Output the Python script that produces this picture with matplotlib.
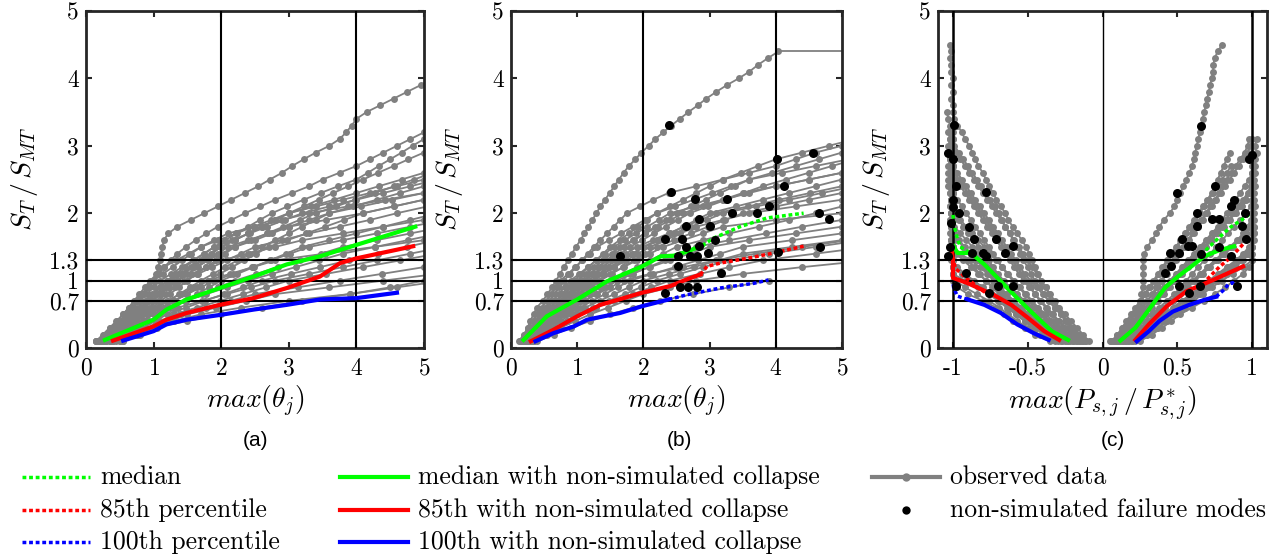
import matplotlib.pyplot as plt
from matplotlib.lines import Line2D

plt.rcParams['font.family'] = 'cmr10'
plt.rcParams['mathtext.fontset'] = 'cm'
plt.rcParams['axes.unicode_minus'] = False
plt.rcParams['axes.formatter.use_mathtext'] = True

# intensity levels S_T/S_MT of the IDA runs
levels = [0.1, 0.2, 0.3, 0.4, 0.5, 0.6, 0.7, 0.8, 0.9, 1.0, 1.1, 1.2, 1.3, 1.4, 1.5,
          1.6, 1.7, 1.8, 1.9, 2.0, 2.1, 2.2, 2.3, 2.4, 2.5, 2.6, 2.7, 2.8, 2.9, 3.0,
          3.1, 3.2, 3.3, 3.4, 3.5, 3.6, 3.7, 3.8, 3.9, 4.0, 4.1, 4.2, 4.3, 4.4, 4.5]

# (a) max(theta_j) of each record at each level
curves_a = [
    [0.15,0.3,0.4,0.5,0.6,0.7,0.78,0.86,0.93,1.0,1.04,1.07,1.09,1.11,1.13,1.15,1.22,1.35,1.55,1.75,1.95,2.15,2.35,2.55,2.72,2.9,3.05,3.22,3.4,3.6,3.75,3.85,3.93,4.0,4.15,4.35,4.55,4.75,4.95,5.15],
    [0.2,0.3,0.4,0.5,0.6,0.68,0.76,0.84,0.92,1.0,1.08,1.16,1.25,1.35,1.48,1.62,1.78,1.95,2.15,2.35,2.58,2.8,3.05,3.3,3.5,3.75,4.0,4.2,4.4,4.6,4.8,5.0,5.2],
    [0.25,0.37,0.48,0.59,0.7,0.8,0.9,1.0,1.1,1.2,1.33,1.46,1.6,1.75,1.9,2.06,2.23,2.4,2.57,2.75,2.98,3.22,3.47,3.73,4.0,4.17,4.33,4.5,4.67,4.83,5.0,5.17],
    [0.28,0.4,0.52,0.64,0.75,0.86,0.97,1.08,1.19,1.3,1.44,1.58,1.72,1.86,2.0,2.2,2.4,2.6,2.8,3.0,3.22,3.44,3.66,3.88,4.1,4.32,4.55,4.77,5.0,5.22],
    [0.2,0.32,0.44,0.57,0.7,0.81,0.92,1.03,1.14,1.25,1.4,1.55,1.7,1.85,2.0,2.2,2.4,2.6,2.8,3.0,3.33,3.67,4.0,4.33,4.67,5.0,5.33],
    [0.25,0.4,0.55,0.7,0.85,0.98,1.11,1.24,1.37,1.5,1.64,1.78,1.92,2.06,2.2,2.44,2.68,2.92,3.16,3.4,3.7,3.98,4.27,4.56,4.85,5.14],
    [0.15,0.27,0.38,0.49,0.6,0.7,0.8,0.9,1.0,1.1,1.26,1.42,1.58,1.74,1.9,2.16,2.42,2.68,2.94,3.2,3.6,4.0,4.4,4.8,5.2],
    [0.3,0.45,0.6,0.75,0.9,1.06,1.22,1.38,1.54,1.7,1.88,2.06,2.24,2.42,2.6,2.8,3.0,3.2,3.4,3.6,3.95,4.3,4.65,5.0,5.35],
    [0.22,0.35,0.48,0.62,0.75,0.87,0.99,1.11,1.23,1.35,1.5,1.65,1.8,1.95,2.1,2.4,2.7,3.0,3.3,3.6,4.07,4.53,5.0,5.47],
    [0.35,0.5,0.68,0.84,1.0,1.16,1.32,1.48,1.64,1.8,1.98,2.16,2.34,2.52,2.7,2.98,3.26,3.54,3.82,4.1,4.55,5.0,5.45],
    [0.18,0.3,0.42,0.53,0.65,0.76,0.87,0.98,1.09,1.2,1.4,1.6,1.8,2.0,2.2,2.5,2.75,3.0,3.55,4.1,4.55,5.0,5.45],
    [0.25,0.38,0.52,0.66,0.8,0.93,1.06,1.19,1.32,1.45,1.66,1.87,2.08,2.29,2.5,2.9,3.3,3.75,4.2,4.6,5.05],
    [0.4,0.58,0.76,0.93,1.1,1.28,1.46,1.64,1.82,2.0,2.24,2.48,2.72,2.96,3.2,3.6,4.0,4.4,4.8,5.2],
    [0.3,0.45,0.6,0.75,0.9,1.1,1.3,1.5,1.7,1.9,2.18,2.46,2.74,3.02,3.3,3.8,4.3,4.8,5.3],
    [0.35,0.5,0.67,0.84,1.0,1.24,1.48,1.72,1.96,2.2,2.52,2.84,3.16,3.48,3.8,4.3,4.8,5.3],
    [0.28,0.42,0.56,0.7,0.85,1.16,1.47,1.78,2.09,2.4,2.75,3.1,3.45,3.8,4.28,4.76,5.24],
    [0.45,0.64,0.83,1.02,1.2,1.48,1.76,2.04,2.32,2.6,3.03,3.46,3.89,4.32,4.75,5.18],
    [0.35,0.52,0.68,0.84,1.0,1.36,1.72,2.08,2.44,2.8,3.3,3.8,4.3,4.8,5.3],
    [0.5,0.7,0.9,1.1,1.3,1.64,1.98,2.32,2.66,3.0,3.55,4.1,4.65,5.2],
    [0.55,0.77,0.99,1.2,1.4,1.77,2.14,2.5,3.13,3.75,4.38,5.0,5.6],
    [0.5,0.75,1.0,1.25,1.5,1.93,2.37,2.8,3.6,4.4,5.2],
    [0.55,0.8,1.05,1.3,1.7,2.3,3.0,3.9,4.6,5.3],
    [0.4,0.7,1.0,1.5,2.0,2.6,3.2,3.9,4.5,5.0,5.5],
    [0.15,0.25,0.35,0.45,0.55,0.64,0.73,0.82,0.91,1.0,1.14,1.28,1.42,1.56,1.7,1.9,2.1,2.5,2.9,3.3,3.87,4.43,5.0,5.57],
    [0.2,0.33,0.45,0.58,0.7,0.83,0.96,1.09,1.22,1.35,1.57,1.78,2.0,2.4,2.8,3.2,3.8,4.4,5.0,5.6],
    [0.25,0.39,0.53,0.67,0.8,1.0,1.2,1.4,1.6,1.8,2.13,2.47,2.8,3.53,4.27,5.0,5.7],
    [0.15,0.26,0.36,0.46,0.55,0.63,0.71,0.79,0.87,0.95,1.05,1.15,1.33,1.52,1.7,1.96,2.22,2.48,2.74,3.0,3.4,3.8,4.2,4.6,5.0,5.4],
]

# (b) max(theta_j), second response quantity
curves_b = [
    [0.15,0.2,0.25,0.29,0.34,0.39,0.48,0.55,0.62,0.68,0.74,0.8,0.86,0.92,0.98,1.05,1.11,1.17,1.23,1.29,1.35,1.42,1.49,1.56,1.63,1.7,1.78,1.88,1.97,2.08,2.18,2.3,2.42,2.55,2.68,2.82,2.95,3.1,3.26,3.44,3.6,3.73,3.88,4.04],
    [0.2,0.27,0.33,0.39,0.45,0.52,0.59,0.66,0.73,0.8,0.89,0.98,1.07,1.16,1.25,1.35,1.45,1.55,1.65,1.75,1.95,2.15,2.38,2.8,3.2,3.6,4.0,4.3,4.6,5.0,5.4],
    [0.15,0.24,0.33,0.42,0.5,0.59,0.68,0.77,0.86,0.95,1.06,1.17,1.28,1.39,1.5,1.64,1.78,1.92,2.06,2.2,2.4,2.6,2.8,3.0,3.2,3.47,3.73,4.0,4.4,4.8,5.2],
    [0.17,0.27,0.37,0.46,0.55,0.65,0.75,0.85,0.95,1.05,1.18,1.31,1.44,1.57,1.7,1.86,2.02,2.18,2.34,2.5,2.72,2.94,3.16,3.38,3.6,3.95,4.3,4.65,5.0,5.35],
    [0.2,0.3,0.4,0.5,0.6,0.7,0.8,0.9,1.0,1.1,1.24,1.38,1.52,1.66,1.8,1.98,2.16,2.34,2.52,2.7,2.97,3.25,3.52,3.8,4.15,4.5,4.85,5.2],
    [0.15,0.24,0.33,0.41,0.5,0.6,0.7,0.8,0.9,1.0,1.13,1.26,1.39,1.52,1.65,1.84,2.03,2.22,2.41,2.6,2.9,3.2,3.5,4.0,4.5,5.0,5.5],
    [0.2,0.31,0.42,0.54,0.65,0.77,0.89,1.01,1.13,1.25,1.4,1.55,1.7,1.85,2.0,2.2,2.4,2.6,2.8,3.0,3.4,3.8,4.2,4.6,5.0,5.4],
    [0.18,0.27,0.36,0.46,0.55,0.66,0.77,0.88,0.99,1.1,1.26,1.42,1.58,1.74,1.9,2.14,2.38,2.62,2.86,3.1,3.58,4.05,4.52,5.0,5.48],
    [0.22,0.34,0.46,0.58,0.7,0.83,0.96,1.09,1.22,1.35,1.52,1.69,1.86,2.03,2.2,2.46,2.72,2.98,3.24,3.5,4.0,4.5,5.0,5.5],
    [0.2,0.3,0.4,0.5,0.6,0.72,0.84,0.96,1.08,1.2,1.38,1.56,1.74,1.92,2.1,2.33,2.56,2.8,3.2,3.6,4.3,5.0,5.7],
    [0.25,0.37,0.5,0.62,0.75,0.9,1.05,1.2,1.35,1.5,1.7,1.9,2.1,2.3,2.5,2.9,3.3,3.75,4.2,4.6,5.0,5.5],
    [0.2,0.32,0.43,0.54,0.65,0.78,0.91,1.04,1.17,1.3,1.5,1.7,1.9,2.1,2.3,2.6,2.9,3.2,4.0,5.0,5.8],
    [0.25,0.4,0.53,0.67,0.8,0.96,1.12,1.28,1.44,1.6,1.84,2.08,2.32,2.56,2.8,3.3,3.85,4.4,5.0,5.6],
    [0.22,0.34,0.46,0.58,0.7,0.86,1.02,1.18,1.34,1.5,1.8,2.1,2.4,2.7,3.0,3.6,4.3,5.0,5.7],
    [0.28,0.42,0.56,0.7,0.85,1.04,1.23,1.42,1.61,1.8,2.14,2.48,2.82,3.16,3.5,4.25,5.0,5.7],
    [0.3,0.45,0.6,0.75,0.9,1.12,1.34,1.56,1.78,2.0,2.38,2.76,3.14,3.5,4.25,5.0,5.7],
    [0.32,0.5,0.67,0.84,1.0,1.24,1.48,1.72,1.96,2.2,2.55,2.9,3.3,3.9,4.6,5.3],
    [0.35,0.55,0.75,0.97,1.2,1.47,1.73,2.0,2.4,2.8,3.5,4.4,5.4],
    [0.35,0.5,0.67,0.84,1.0,1.28,1.56,1.84,2.12,2.4,2.85,3.3,3.8,4.6,5.4],
    [0.4,0.65,0.9,1.2,1.5,1.85,2.25,2.75,3.3,3.9],
    [0.12,0.19,0.26,0.33,0.4,0.47,0.54,0.61,0.68,0.75,0.86,0.97,1.08,1.19,1.3,1.48,1.66,1.84,2.02,2.2,2.48,2.76,3.04,3.32,3.6,4.1,4.6,5.1],
    [0.18,0.27,0.37,0.46,0.55,0.67,0.79,0.91,1.03,1.15,1.32,1.49,1.66,1.83,2.0,2.24,2.48,2.72,2.96,3.2,3.7,4.2,4.7,5.2],
    [0.22,0.34,0.46,0.58,0.7,0.9,1.1,1.3,1.5,1.7,2.1,2.6,3.1,3.7,4.4,5.1],
    [0.14,0.22,0.3,0.37,0.45,0.54,0.63,0.72,0.81,0.9,1.03,1.16,1.29,1.42,1.55,1.72,1.89,2.06,2.23,2.4,2.8,3.2,3.6,4.0,4.5,5.0,5.5],
]
b_tail_x = [4.04, 5.0]
b_tail_y = [4.41, 4.41]

# (c) max(P_sj / P*_sj), compression side and tension side
curves_c_neg = [
    [-0.11,-0.15,-0.2,-0.24,-0.27,-0.3,-0.34,-0.36,-0.38,-0.41,-0.43,-0.45,-0.47,-0.49,-0.51,-0.54,-0.57,-0.6,-0.63,-0.65,-0.68,-0.71,-0.73,-0.76,-0.78,-0.8,-0.83,-0.85,-0.87,-0.89,-0.92,-0.94,-0.97,-0.99,-1.0,-1.0,-1.01,-1.0,-1.01,-1.0,-1.01,-1.01,-1.02,-1.01,-1.02],
    [-0.13,-0.17,-0.21,-0.25,-0.28,-0.32,-0.36,-0.39,-0.42,-0.45,-0.48,-0.5,-0.53,-0.55,-0.57,-0.6,-0.62,-0.65,-0.67,-0.69,-0.72,-0.75,-0.78,-0.81,-0.84,-0.87,-0.9,-0.93,-0.96,-0.99,-1.0,-1.0,-1.01],
    [-0.15,-0.2,-0.25,-0.3,-0.34,-0.38,-0.42,-0.45,-0.48,-0.51,-0.54,-0.57,-0.6,-0.63,-0.66,-0.69,-0.72,-0.75,-0.78,-0.81,-0.84,-0.87,-0.9,-0.93,-0.96,-0.99,-1.0,-1.0,-1.0],
    [-0.18,-0.24,-0.3,-0.35,-0.4,-0.44,-0.48,-0.52,-0.56,-0.6,-0.64,-0.67,-0.7,-0.73,-0.76,-0.79,-0.82,-0.85,-0.88,-0.91,-0.94,-0.97,-1.0,-1.0,-1.01],
    [-0.2,-0.27,-0.33,-0.39,-0.44,-0.49,-0.54,-0.58,-0.62,-0.66,-0.7,-0.73,-0.76,-0.8,-0.83,-0.86,-0.9,-0.93,-0.96,-1.0,-1.0,-1.01,-1.0,-1.0],
    [-0.22,-0.3,-0.37,-0.43,-0.49,-0.54,-0.59,-0.64,-0.68,-0.72,-0.76,-0.8,-0.84,-0.88,-0.92,-0.96,-1.0,-1.0,-1.01,-1.0,-1.01,-1.0,-1.01,-1.02,-1.01,-1.02,-1.01,-1.02,-1.03,-1.02],
    [-0.25,-0.33,-0.4,-0.47,-0.53,-0.59,-0.64,-0.69,-0.74,-0.78,-0.82,-0.86,-0.9,-0.95,-1.0,-1.0,-1.0,-1.01,-1.0,-1.01,-1.0,-1.01],
    [-0.23,-0.31,-0.38,-0.45,-0.5,-0.55,-0.6,-0.65,-0.69,-0.73,-0.77,-0.82,-0.88,-0.95,-1.0,-1.0,-0.99,-1.0,-1.0],
    [-0.3,-0.38,-0.46,-0.52,-0.58,-0.63,-0.69,-0.75,-0.83,-0.92,-1.0,-1.0,-1.0,-1.01,-1.0,-1.01,-1.02],
    [-0.35,-0.45,-0.52,-0.6,-0.66,-0.71,-0.8,-0.9,-0.97,-1.0,-1.0,-1.0],
    [-0.27,-0.36,-0.44,-0.5,-0.56,-0.62,-0.68,-0.74,-0.8,-0.86,-0.92,-0.97,-1.0,-1.0,-1.01,-1.0,-1.01,-1.0,-1.02,-1.01],
    [-0.12,-0.16,-0.2,-0.24,-0.28,-0.32,-0.36,-0.4,-0.44,-0.48,-0.52,-0.55,-0.58,-0.61,-0.64,-0.67,-0.7,-0.73,-0.76,-0.79,-0.82,-0.85,-0.88,-0.91,-0.94,-0.97,-1.0,-1.0],
    [-0.16,-0.22,-0.28,-0.33,-0.38,-0.43,-0.47,-0.51,-0.55,-0.59,-0.63,-0.67,-0.71,-0.75,-0.79,-0.83,-0.87,-0.91,-0.95,-0.99,-1.0,-1.01,-1.0,-1.01,-1.0,-1.02,-1.01,-1.02,-1.02,-1.03,-1.02,-1.03,-1.02,-1.03,-1.04],
    [-0.24,-0.32,-0.39,-0.46,-0.52,-0.58,-0.63,-0.68,-0.73,-0.78,-0.83,-0.88,-0.93,-0.98,-1.0,-1.01,-1.0,-1.01,-1.02,-1.01,-1.02,-1.01,-1.02,-1.02,-1.03,-1.02,-1.03,-1.02,-1.03],
    [-0.2,-0.26,-0.32,-0.37,-0.42,-0.47,-0.52,-0.57,-0.62,-0.67,-0.71,-0.75,-0.79,-0.83,-0.87,-0.91,-0.95,-0.99,-1.0,-1.0,-1.01],
    [-0.28,-0.37,-0.45,-0.52,-0.58,-0.64,-0.7,-0.76,-0.82,-0.88,-0.94,-0.99,-1.0,-1.01,-1.0,-1.01],
    [-0.14,-0.19,-0.24,-0.29,-0.33,-0.37,-0.41,-0.45,-0.49,-0.53,-0.56,-0.59,-0.62,-0.65,-0.68,-0.71,-0.74,-0.77,-0.8,-0.83,-0.86,-0.89,-0.92,-0.95,-0.98,-1.0,-1.0,-1.01,-1.0,-1.01,-1.02,-1.01],
    [-0.17,-0.23,-0.29,-0.35,-0.41,-0.47,-0.53,-0.58,-0.63,-0.68,-0.73,-0.78,-0.83,-0.88,-0.93,-0.97,-1.0,-1.0,-1.01,-1.01,-1.02,-1.01,-1.02,-1.03,-1.02,-1.03],
    [-0.32,-0.42,-0.5,-0.57,-0.63,-0.69,-0.76,-0.84,-0.92,-0.98,-1.0,-1.0,-1.01],
    [-0.09,-0.13,-0.17,-0.21,-0.25,-0.29,-0.32,-0.35,-0.38,-0.41,-0.44,-0.47,-0.5,-0.53,-0.56,-0.59,-0.62,-0.65,-0.68,-0.71,-0.74,-0.77,-0.8,-0.83,-0.86,-0.89,-0.92,-0.95,-0.98,-1.0,-1.0],
]
curves_c_pos = [
    [0.05,0.12,0.18,0.22,0.24,0.25,0.26,0.26,0.27,0.27,0.27,0.27,0.27,0.28,0.3,0.33,0.36,0.38,0.41,0.45,0.48,0.5,0.52,0.54,0.56,0.58,0.6,0.61,0.62,0.63,0.64,0.65,0.66,0.67,0.68,0.69,0.7,0.71,0.72,0.73,0.74,0.74,0.75,0.77,0.8],
    [0.08,0.12,0.16,0.2,0.24,0.27,0.3,0.33,0.36,0.39,0.42,0.45,0.48,0.51,0.54,0.57,0.6,0.63,0.66,0.69,0.72,0.75,0.78,0.8,0.83,0.86,0.89,0.92,0.95,0.97,0.98],
    [0.1,0.15,0.2,0.24,0.28,0.32,0.36,0.4,0.44,0.48,0.52,0.56,0.6,0.64,0.68,0.72,0.76,0.8,0.84,0.88,0.92,0.95,0.98,1.0,1.0,1.0],
    [0.12,0.18,0.23,0.28,0.33,0.38,0.43,0.48,0.52,0.56,0.6,0.64,0.68,0.72,0.76,0.8,0.84,0.88,0.92,0.96,0.99,1.0],
    [0.15,0.21,0.27,0.32,0.37,0.42,0.47,0.52,0.57,0.62,0.67,0.72,0.77,0.82,0.87,0.92,0.96,1.0,1.0,1.0],
    [0.18,0.25,0.31,0.37,0.43,0.49,0.55,0.61,0.67,0.73,0.79,0.85,0.91,0.96,1.0,1.0,1.01,1.0],
    [0.22,0.3,0.37,0.43,0.49,0.55,0.61,0.67,0.73,0.8,0.87,0.94,1.0,1.0],
    [0.25,0.33,0.4,0.46,0.52,0.6,0.68,0.75,0.82,0.88,0.94,0.98,1.0],
    [0.06,0.1,0.14,0.18,0.22,0.26,0.3,0.34,0.37,0.4,0.43,0.46,0.49,0.52,0.55,0.58,0.61,0.64,0.67,0.7,0.73,0.76,0.79,0.82,0.85,0.88,0.91,0.94,0.97,0.99,1.0],
    [0.1,0.14,0.18,0.22,0.26,0.3,0.34,0.38,0.42,0.46,0.5,0.54,0.58,0.62,0.66,0.7,0.74,0.78,0.82,0.86,0.9,0.94,0.97,0.99,1.0],
    [0.14,0.2,0.26,0.31,0.36,0.41,0.46,0.51,0.56,0.61,0.66,0.71,0.76,0.81,0.86,0.91,0.95,0.98,1.0,1.0,1.0,1.0,1.0,1.01],
    [0.2,0.27,0.34,0.4,0.46,0.52,0.58,0.64,0.7,0.76,0.82,0.88,0.93,0.97,1.0,1.0,1.0,1.01,1.0,1.0],
    [0.07,0.1,0.13,0.16,0.19,0.22,0.25,0.28,0.31,0.34,0.37,0.4,0.43,0.46,0.49,0.52,0.55,0.58,0.61,0.64,0.67,0.7,0.73,0.75,0.77,0.79,0.81,0.83,0.85],
    [0.16,0.23,0.29,0.35,0.41,0.47,0.53,0.59,0.65,0.71,0.77,0.83,0.89,0.94,0.98,1.0,1.0],
    [0.09,0.13,0.17,0.21,0.25,0.29,0.33,0.37,0.41,0.45,0.49,0.53,0.57,0.61,0.65,0.69,0.73,0.77,0.8,0.83,0.86,0.89,0.92,0.95,0.98,1.0,1.0,1.0,1.0,1.0],
    [0.13,0.19,0.25,0.3,0.35,0.4,0.45,0.5,0.55,0.6,0.65,0.7,0.75,0.8,0.85,0.9,0.94,0.97,0.99,1.0,1.0,1.01,1.0,1.01,1.0,1.01,1.02,1.01],
    [0.2,0.28,0.35,0.41,0.47,0.53,0.59,0.65,0.71,0.77,0.83,0.89,0.94,0.98,1.0,1.01,1.0,1.01,1.0,1.01,1.02],
    [0.08,0.11,0.14,0.17,0.2,0.23,0.26,0.29,0.32,0.35,0.38,0.41,0.44,0.47,0.5,0.53,0.56,0.59,0.62,0.65,0.68,0.71,0.74,0.77,0.8,0.83,0.86],
    [0.17,0.24,0.3,0.36,0.42,0.48,0.54,0.6,0.66,0.72,0.78,0.84,0.9,0.95,0.99,1.0,1.01,1.0,1.01,1.0,1.01,1.0,1.01,1.02,1.01,1.02,1.01,1.02,1.03,1.02,1.03],
    [0.11,0.16,0.21,0.25,0.29,0.33,0.37,0.41,0.45,0.49,0.53,0.57,0.61,0.65,0.69,0.73,0.77,0.81,0.85,0.89,0.93,0.96,0.99,1.0],
]

# percentile curves (solid: with non-simulated collapse, dotted: without)
a_med_x = [0.28, 1.0, 1.19, 1.49, 1.98, 2.48, 2.97, 3.46, 4.0, 4.87]
a_med_y = [0.12, 0.42, 0.57, 0.72, 0.89, 1.06, 1.24, 1.36, 1.53, 1.8]
a_p85_x = [0.4, 1.0, 1.19, 1.49, 1.98, 2.48, 2.97, 3.46, 3.76, 4.0, 4.84]
a_p85_y = [0.11, 0.32, 0.42, 0.52, 0.64, 0.74, 0.89, 1.06, 1.26, 1.33, 1.51]
a_max_x = [0.55, 1.0, 1.19, 1.49, 1.98, 2.48, 2.97, 3.46, 4.0, 4.6]
a_max_y = [0.11, 0.25, 0.35, 0.42, 0.49, 0.57, 0.64, 0.72, 0.74, 0.82]

b_med_x = [0.19, 0.54, 1.0, 1.45, 1.98, 2.26, 2.46, 2.66, 2.89]
b_med_y = [0.12, 0.47, 0.72, 0.99, 1.21, 1.36, 1.37, 1.43, 1.52]
b_med_dot_x = [2.89, 3.06, 3.46, 3.87, 4.42]
b_med_dot_y = [1.52, 1.63, 1.8, 1.93, 2.0]
b_p85_x = [0.3, 0.64, 1.0, 1.35, 1.98, 2.41, 2.66, 2.86]
b_p85_y = [0.1, 0.27, 0.47, 0.64, 0.82, 0.92, 1.02, 1.09]
b_p85_dot_x = [2.86, 2.96, 3.16, 3.57, 3.97, 4.42]
b_p85_dot_y = [1.09, 1.21, 1.26, 1.33, 1.41, 1.51]
b_max_x = [0.37, 0.64, 0.95, 1.15, 1.65, 1.98, 2.38]
b_max_y = [0.1, 0.22, 0.32, 0.42, 0.52, 0.62, 0.72]
b_max_dot_x = [2.38, 2.66, 3.16, 3.67, 3.89]
b_max_dot_y = [0.72, 0.79, 0.89, 0.96, 1.01]

c_med_neg_x = [-0.23, -0.34, -0.46, -0.57, -0.68, -0.79, -0.88, -0.97, -0.995]
c_med_neg_y = [0.12, 0.25, 0.5, 0.74, 0.99, 1.24, 1.41, 1.41, 1.51]
c_med_neg_dot_x = [-0.85, -0.9, -0.95, -0.97, -0.99, -1.0]
c_med_neg_dot_y = [1.38, 1.43, 1.5, 1.62, 1.8, 1.98]
c_p85_neg_x = [-0.29, -0.39, -0.5, -0.61, -0.73, -0.91, -1.0, -1.0, -1.01]
c_p85_neg_y = [0.12, 0.25, 0.45, 0.64, 0.79, 0.97, 1.04, 1.3, 1.49]
c_p85_neg_dot_x = [-0.75, -0.78, -0.83, -0.87, -0.92, -0.95, -0.98, -0.99, -1.0]
c_p85_neg_dot_y = [0.77, 0.82, 0.89, 0.97, 1.05, 1.12, 1.17, 1.24, 1.35]
c_max_neg_x = [-0.36, -0.46, -0.57, -0.68, -0.79, -0.9]
c_max_neg_y = [0.12, 0.22, 0.35, 0.52, 0.64, 0.72]
c_max_neg_dot_x = [-0.9, -0.93, -0.97, -0.995, -1.0]
c_max_neg_dot_y = [0.72, 0.74, 0.77, 0.89, 0.96]

c_med_pos_x = [0.12, 0.22, 0.32, 0.42, 0.51, 0.6, 0.68, 0.78, 0.88]
c_med_pos_y = [0.11, 0.3, 0.6, 0.9, 1.07, 1.22, 1.36, 1.45, 1.51]
c_med_pos_dot_x = [0.69, 0.78, 0.86, 0.93, 0.98]
c_med_pos_dot_y = [1.45, 1.64, 1.8, 1.9, 1.98]
c_p85_pos_x = [0.22, 0.31, 0.43, 0.56, 0.72, 0.94]
c_p85_pos_y = [0.12, 0.35, 0.62, 0.84, 0.99, 1.21]
c_p85_pos_dot_x = [0.7, 0.78, 0.86, 0.94]
c_p85_pos_dot_y = [1.02, 1.2, 1.35, 1.54]
c_max_pos_x = [0.23, 0.31, 0.38, 0.47, 0.58, 0.69, 0.76]
c_max_pos_y = [0.1, 0.25, 0.4, 0.54, 0.64, 0.72, 0.76]
c_max_pos_dot_x = [0.76, 0.81, 0.84, 0.87, 0.89]
c_max_pos_dot_y = [0.76, 0.86, 0.94, 0.97, 0.9]

# non-simulated failure modes
b_fail_x = [2.38, 2.41, 4.02, 4.56, 4.12, 2.78, 3.27, 3.34, 3.71, 3.89, 4.65, 4.8, 2.84, 2.64, 3.01, 2.33, 2.58,
            3.08, 2.65, 2.84, 1.65, 2.53, 2.7, 2.81, 2.98, 4.67, 4.03, 2.53, 3.17, 2.56, 2.68, 2.81, 2.32]
b_fail_y = [3.31, 2.31, 2.8, 2.9, 2.41, 2.21, 2.21, 2.01, 2.01, 2.11, 2.01, 1.91, 1.91, 1.81, 1.81, 1.61, 1.61,
            1.6, 1.5, 1.51, 1.37, 1.37, 1.37, 1.37, 1.41, 1.5, 1.42, 1.21, 1.11, 0.91, 0.91, 0.91, 0.81]
c_fail_neg_x = [-0.99, -1.03, -1.0, -0.98, -0.78, -1.0, -1.0, -0.96, -1.01, -0.89, -0.71, -0.86, -0.6, -1.02,
                -0.87, -0.8, -0.78, -0.65, -1.03, -0.91, -0.7, -0.6, -0.76, -0.98]
c_fail_neg_y = [3.31, 2.9, 2.8, 2.4, 2.31, 2.2, 2.09, 2.0, 1.86, 1.79, 1.61, 1.61, 1.51, 1.5,
                1.41, 1.41, 1.36, 1.41, 1.36, 1.11, 0.92, 0.92, 0.82, 0.92]
c_fail_pos_x = [0.66, 1.0, 0.98, 0.5, 0.75, 0.88, 0.86, 0.63, 0.73, 0.78, 0.63, 0.95, 0.93, 0.53, 0.57, 0.6,
                0.51, 0.45, 0.66, 0.78, 0.86, 0.96, 0.46, 0.42, 0.51, 0.65, 0.58, 0.9]
c_fail_pos_y = [3.29, 2.87, 2.8, 2.3, 2.4, 2.2, 2.1, 2.0, 1.91, 1.91, 1.81, 2.0, 1.81, 1.61, 1.51, 1.51,
                1.41, 1.41, 1.39, 1.5, 1.36, 1.61, 1.21, 1.11, 0.92, 0.92, 0.82, 0.92]

yticks = [0, 0.7, 1, 1.3, 2, 3, 4, 5]
ytick_labels = ['0', '0.7', '1', '1.3', '2', '3', '4', '5']

gray = '#808080'
dark = '#262626'
dotted = (0, (1.1, 0.8))

W, H = 1279, 560
fig = plt.figure(figsize=(W / 100, H / 100), dpi=100)
ax_a = fig.add_axes([86 / W, 212 / H, 338 / W, 337 / H])
ax_b = fig.add_axes([511 / W, 212 / H, 331 / W, 337 / H])
ax_c = fig.add_axes([938 / W, 212 / H, 329 / W, 337 / H])


def gray_curves(ax, curves):
    for xs in curves:
        ax.plot(xs, levels[:len(xs)], '-o', color=gray, lw=1.3, ms=5, mew=0, zorder=2)


def style(ax):
    ax.set_ylim(0, 5)
    ax.set_yticks(yticks, ytick_labels)
    for v in [0.7, 1, 1.3]:
        ax.axhline(v, color='k', lw=1.5, zorder=3)
    for s in ax.spines.values():
        s.set_linewidth(2)
        s.set_color(dark)
    ax.tick_params(direction='in', length=4, width=1.5, top=True, right=True,
                   labelsize=17, colors=dark, labelcolor='k')
    ax.tick_params(axis='x', pad=7)
    ax.tick_params(axis='y', pad=5)
    ax.set_ylabel(r'$S_T\,/\,S_{MT}$', fontsize=20, labelpad=6)


# panel (a)
gray_curves(ax_a, curves_a)
ax_a.plot(a_med_x, a_med_y, color='lime', lw=3, zorder=4)
ax_a.plot(a_p85_x, a_p85_y, color='red', lw=3, zorder=4)
ax_a.plot(a_max_x, a_max_y, color='blue', lw=3, zorder=4)
for v in [2, 4]:
    ax_a.axvline(v, color='k', lw=1.5, zorder=3)
ax_a.set_xlim(0, 5)
ax_a.set_xticks([0, 1, 2, 3, 4, 5])
style(ax_a)
ax_a.set_xlabel(r'$max(\theta_j)$', fontsize=20, labelpad=3)

# panel (b)
gray_curves(ax_b, curves_b)
ax_b.plot(b_tail_x, b_tail_y, color=gray, lw=1.3, zorder=2)
ax_b.plot(b_med_x, b_med_y, color='lime', lw=3, zorder=4)
ax_b.plot(b_p85_x, b_p85_y, color='red', lw=3, zorder=4)
ax_b.plot(b_max_x, b_max_y, color='blue', lw=3, zorder=4)
ax_b.plot(b_med_dot_x, b_med_dot_y, color='lime', lw=2.5, ls=dotted, zorder=4)
ax_b.plot(b_p85_dot_x, b_p85_dot_y, color='red', lw=2.5, ls=dotted, zorder=4)
ax_b.plot(b_max_dot_x, b_max_dot_y, color='blue', lw=2.5, ls=dotted, zorder=4)
ax_b.plot(b_fail_x, b_fail_y, 'o', color='k', ms=6.5, mew=0, zorder=5)
for v in [2, 4]:
    ax_b.axvline(v, color='k', lw=1.5, zorder=3)
ax_b.set_xlim(0, 5)
ax_b.set_xticks([0, 1, 2, 3, 4, 5])
style(ax_b)
ax_b.set_xlabel(r'$max(\theta_j)$', fontsize=20, labelpad=3)

# panel (c)
gray_curves(ax_c, curves_c_neg)
gray_curves(ax_c, curves_c_pos)
ax_c.plot(c_med_neg_x, c_med_neg_y, color='lime', lw=3, zorder=4)
ax_c.plot(c_p85_neg_x, c_p85_neg_y, color='red', lw=3, zorder=4)
ax_c.plot(c_max_neg_x, c_max_neg_y, color='blue', lw=3, zorder=4)
ax_c.plot(c_med_neg_dot_x, c_med_neg_dot_y, color='lime', lw=2.5, ls=dotted, zorder=4)
ax_c.plot(c_p85_neg_dot_x, c_p85_neg_dot_y, color='red', lw=2.5, ls=dotted, zorder=4)
ax_c.plot(c_max_neg_dot_x, c_max_neg_dot_y, color='blue', lw=2.5, ls=dotted, zorder=4)
ax_c.plot(c_med_pos_x, c_med_pos_y, color='lime', lw=3, zorder=4)
ax_c.plot(c_p85_pos_x, c_p85_pos_y, color='red', lw=3, zorder=4)
ax_c.plot(c_max_pos_x, c_max_pos_y, color='blue', lw=3, zorder=4)
ax_c.plot(c_med_pos_dot_x, c_med_pos_dot_y, color='lime', lw=2.5, ls=dotted, zorder=4)
ax_c.plot(c_p85_pos_dot_x, c_p85_pos_dot_y, color='red', lw=2.5, ls=dotted, zorder=4)
ax_c.plot(c_max_pos_dot_x, c_max_pos_dot_y, color='blue', lw=2.5, ls=dotted, zorder=4)
ax_c.plot(c_fail_neg_x, c_fail_neg_y, 'o', color='k', ms=6.5, mew=0, zorder=5)
ax_c.plot(c_fail_pos_x, c_fail_pos_y, 'o', color='k', ms=6.5, mew=0, zorder=5)
ax_c.axvline(-1, color='k', lw=1.8, zorder=3)
ax_c.axvline(0, color='k', lw=1.0, zorder=3)
ax_c.axvline(1, color='k', lw=1.8, zorder=3)
ax_c.set_xlim(-1.1, 1.1)
ax_c.set_xticks([-1, -0.5, 0, 0.5, 1], ['-1', '-0.5', '0', '0.5', '1'])
style(ax_c)
ax_c.set_xlabel(r'$max(P_{s,j}\,/\,P^*_{s,j})$', fontsize=20, labelpad=3)

for xc, lab in [(255, '(a)'), (679, '(b)'), (1113, '(c)')]:
    fig.text(xc / W, 1 - 440 / H, lab, ha='center', va='center',
             family='Liberation Sans', fontsize=15)


# legend, three columns drawn in figure pixels
def legend_row(x0, x1, y, label, **kw):
    fig.add_artist(Line2D([x0 / W, x1 / W], [1 - y / H, 1 - y / H], transform=fig.transFigure, **kw))
    fig.text((x1 + 10) / W, 1 - y / H, label, ha='left', va='center', fontsize=18.5)


rows = [477, 510, 542]
legend_row(22, 90, rows[0], 'median', color='lime', lw=2.5, ls=dotted)
legend_row(22, 90, rows[1], '85th percentile', color='red', lw=2.5, ls=dotted)
legend_row(22, 90, rows[2], '100th percentile', color='blue', lw=2.5, ls=dotted)
legend_row(340, 408, rows[0], 'median with non-simulated collapse', color='lime', lw=3)
legend_row(340, 408, rows[1], '85th with non-simulated collapse', color='red', lw=3)
legend_row(340, 408, rows[2], '100th with non-simulated collapse', color='blue', lw=3)
legend_row(872, 940, rows[0], 'observed data', color=gray, lw=3)
fig.add_artist(Line2D([906 / W], [1 - rows[0] / H], transform=fig.transFigure,
                      marker='o', color=gray, ms=6, mew=0))
fig.add_artist(Line2D([906 / W], [1 - rows[1] / H], transform=fig.transFigure,
                      marker='o', color='k', ms=6, mew=0))
fig.text(950 / W, 1 - rows[1] / H, 'non-simulated failure modes', ha='left', va='center', fontsize=18.5)

fig.savefig('out.png', dpi=100)
